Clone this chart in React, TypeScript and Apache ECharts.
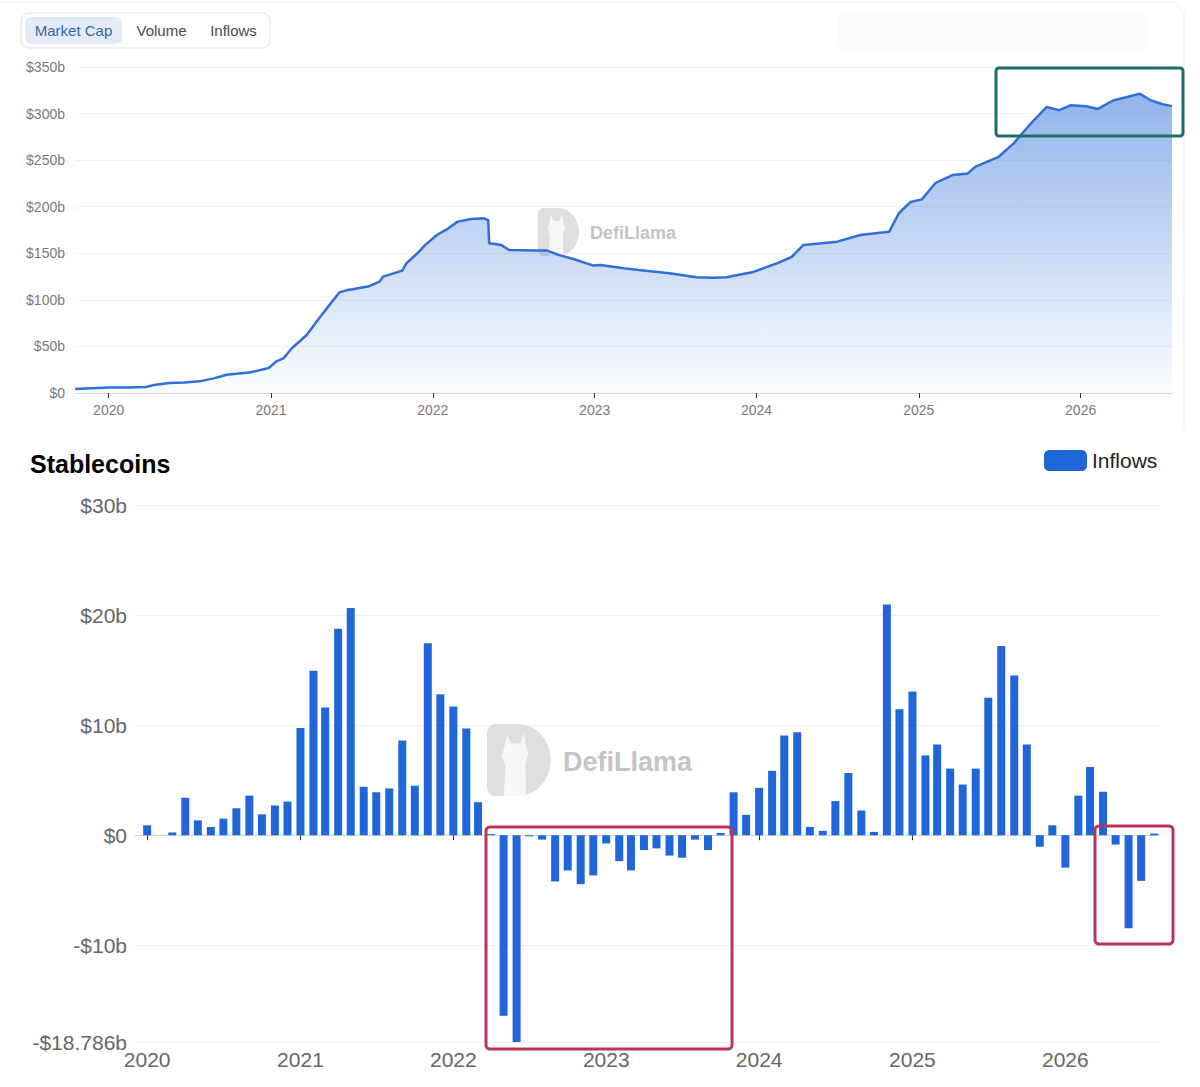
import React, { useEffect, useRef } from "react";
import * as echarts from "echarts";

// ---------- DATA ----------
// Top chart: stablecoin market cap (billions USD)
const capDates = [
  "2019-10-17", "2020-01-01", "2020-02-15", "2020-03-25", "2020-04-08", "2020-05-16",
  "2020-06-20", "2020-07-24", "2020-08-27", "2020-09-23", "2020-10-15", "2020-11-13",
  "2020-12-27", "2021-01-13", "2021-01-30", "2021-02-17", "2021-03-23", "2021-04-17",
  "2021-05-13", "2021-06-04", "2021-06-22", "2021-07-04", "2021-07-25", "2021-08-08",
  "2021-09-03", "2021-09-11", "2021-10-24", "2021-11-02", "2021-11-27", "2021-12-15",
  "2022-01-10", "2022-02-05", "2022-02-26", "2022-03-28", "2022-04-27", "2022-05-06",
  "2022-05-08", "2022-05-25", "2022-06-04", "2022-06-22", "2022-08-22", "2022-09-16",
  "2022-10-13", "2022-11-16", "2022-12-29", "2023-01-14", "2023-03-07", "2023-04-10",
  "2023-06-19", "2023-08-18", "2023-09-25", "2023-10-25", "2023-12-25", "2024-02-15",
  "2024-03-20", "2024-04-16", "2024-07-01", "2024-08-22", "2024-09-25", "2024-10-26",
  "2024-11-17", "2024-12-13", "2025-01-08", "2025-02-08", "2025-03-18", "2025-04-21",
  "2025-05-09", "2025-06-30", "2025-08-03", "2025-09-07", "2025-10-16", "2025-11-14",
  "2025-12-10", "2026-01-14", "2026-02-09", "2026-03-15", "2026-04-18", "2026-05-14",
  "2026-06-09", "2026-07-05", "2026-07-26",
];
const capValues = [
  4.3, 6, 5.9, 6.4, 8.2, 10.7,
  11.4, 12.5, 16, 19.6, 20.6, 22,
  26.8, 34, 37.5, 48, 62.5, 78.6,
  94.6, 108, 110.5, 111.4, 113.2, 114.3,
  119.6, 125, 131.4, 139, 150, 159,
  169.6, 176.8, 184, 186.8, 187.5, 185.7,
  160.7, 159.8, 159, 153.6, 152.9, 152.9,
  148, 143.6, 136.8, 137.5, 134, 132,
  128.6, 124.3, 123.8, 124.3, 130, 139,
  146, 159, 162.5, 169.6, 171.5, 173,
  193, 205, 207.9, 225.7, 234, 235.7,
  243, 253.6, 268, 287.5, 307, 303.6,
  309, 307.9, 305, 314, 318, 321.4,
  314, 310, 308,
];

// Bottom chart: monthly stablecoin inflows (billions USD), Jan 2020 .. Aug 2026
const inflowMonths = [
  "2020-01", "2020-02", "2020-03", "2020-04", "2020-05", "2020-06", "2020-07", "2020-08", "2020-09", "2020-10", "2020-11", "2020-12",
  "2021-01", "2021-02", "2021-03", "2021-04", "2021-05", "2021-06", "2021-07", "2021-08", "2021-09", "2021-10", "2021-11", "2021-12",
  "2022-01", "2022-02", "2022-03", "2022-04", "2022-05", "2022-06", "2022-07", "2022-08", "2022-09", "2022-10", "2022-11", "2022-12",
  "2023-01", "2023-02", "2023-03", "2023-04", "2023-05", "2023-06", "2023-07", "2023-08", "2023-09", "2023-10", "2023-11", "2023-12",
  "2024-01", "2024-02", "2024-03", "2024-04", "2024-05", "2024-06", "2024-07", "2024-08", "2024-09", "2024-10", "2024-11", "2024-12",
  "2025-01", "2025-02", "2025-03", "2025-04", "2025-05", "2025-06", "2025-07", "2025-08", "2025-09", "2025-10", "2025-11", "2025-12",
  "2026-01", "2026-02", "2026-03", "2026-04", "2026-05", "2026-06", "2026-07", "2026-08",
];
const inflowValues = [
  0.9, 0, 0.25, 3.4, 1.35, 0.75, 1.5, 2.45, 3.6, 1.9, 2.7, 3.05,
  9.75, 14.95, 11.6, 18.75, 20.65, 4.4, 3.9, 4.25, 8.6, 4.5, 17.45, 12.8,
  11.7, 9.7, 3.0, 0.1, -16.4, -18.786, -0.1, -0.4, -4.2, -3.2, -4.45, -3.65,
  -0.75, -2.35, -3.2, -1.35, -1.2, -1.85, -2.05, -0.4, -1.35, 0.2, 3.9, 1.85,
  4.3, 5.85, 9.05, 9.35, 0.75, 0.4, 3.1, 5.65, 2.25, 0.3, 20.95, 11.45,
  13.05, 7.25, 8.25, 6.05, 4.6, 6.05, 12.5, 17.2, 14.5, 8.25, -1.05, 0.9,
  -2.95, 3.6, 6.2, 3.95, -0.85, -8.45, -4.15, 0.15,
];

const yearTicks = [2020, 2021, 2022, 2023, 2024, 2025, 2026];
const tabLabels = ["Market Cap", "Volume", "Inflows"];

// ---------- HELPERS ----------
const ts = (s: string) => {
  const p = s.split("-").map(Number);
  return new Date(p[0], (p[1] || 1) - 1, p[2] || 1).getTime();
};
const yearTs = yearTicks.map((y) => new Date(y, 0, 1).getTime());
const yearFmt = (v: number) => String(new Date(v + 12 * 3600 * 1000).getFullYear());
const money = (v: number) => (v === 0 ? "$0" : (v < 0 ? "-$" + Math.abs(v) : "$" + v) + "b");
const FONT = "'Liberation Sans', Arial, Helvetica, sans-serif";

const D_PATH =
  "M12 0 H48 A50 50 0 0 1 48 100 H12 A12 12 0 0 1 0 88 V12 A12 12 0 0 1 12 0 Z";
const LLAMA_PATH =
  "M26 100 L28 58 L23 44 L27 31 L31 14 L37 27 L51 27 L57 13 L60 29 L64 42 L59 55 L60 100 Z";
let registered = false;
function registerShapes() {
  if (registered) return;
  registered = true;
  echarts.graphic.registerShape("llamaD", echarts.graphic.extendPath(D_PATH, {}) as any);
  echarts.graphic.registerShape("llamaBody", echarts.graphic.extendPath(LLAMA_PATH, {}) as any);
}

function watermark(x: number, y: number, w: number, h: number, textX: number, textY: number, size: number) {
  const sx = w / 100;
  const sy = h / 100;
  return [
    { type: "llamaD", x, y, scaleX: sx, scaleY: sy, z: 1, style: { fill: "#dedede" }, silent: true },
    { type: "llamaBody", x, y, scaleX: sx, scaleY: sy, z: 1, style: { fill: "#f7f7f7" }, silent: true },
    {
      type: "text",
      x: textX,
      y: textY,
      z: 1,
      silent: true,
      style: {
        text: "DefiLlama",
        fill: "#c4c4c4",
        font: `bold ${size}px ${FONT}`,
        verticalAlign: "middle",
      },
    },
  ];
}

export default function App() {
  const ref = useRef<HTMLDivElement>(null);

  useEffect(() => {
    if (!ref.current) return;
    registerShapes();
    const chart = echarts.init(ref.current, undefined, { renderer: "svg" });

    const tabCenters = [73.5, 161.5, 233.5];

    const option: any = {
      animation: false,
      backgroundColor: "#ffffff",
      textStyle: { fontFamily: FONT },
      legend: {
        data: ["Inflows"],
        left: 1044,
        top: 450,
        padding: 0,
        itemWidth: 43,
        itemHeight: 21,
        icon: "roundRect",
        textStyle: { fontSize: 21, color: "#222", fontFamily: FONT },
      },
      grid: [
        { left: 75, top: 67, width: 1097, height: 326 },
        { left: 135, top: 505, width: 1025, height: 537 },
      ],
      xAxis: [
        {
          type: "value",
          gridIndex: 0,
          position: "bottom",
          min: ts("2019-10-17"),
          max: ts("2026-07-26"),
          axisLine: { lineStyle: { color: "#d9d9d9" } },
          axisTick: { show: true, length: 5, lineStyle: { color: "#333" }, customValues: yearTs },
          axisLabel: { customValues: yearTs, formatter: yearFmt, color: "#7a7a7a", fontSize: 14, margin: 10 },
          splitLine: { show: false },
        },
        {
          type: "value",
          gridIndex: 1,
          position: "bottom",
          min: ts("2019-12-03"),
          max: ts("2026-08-15"),
          axisLine: { onZero: true, lineStyle: { color: "#c9d3e5" } },
          axisTick: { show: true, length: 5, lineStyle: { color: "#333" }, customValues: yearTs },
          axisLabel: { show: false },
          splitLine: { show: false },
        },
        {
          type: "value",
          gridIndex: 1,
          position: "bottom",
          min: ts("2019-12-03"),
          max: ts("2026-08-15"),
          axisLine: { show: false, onZero: false },
          axisTick: { show: false },
          axisLabel: { customValues: yearTs, formatter: yearFmt, color: "#666", fontSize: 21, margin: 7 },
          splitLine: { show: false },
        },
      ],
      yAxis: [
        {
          type: "value",
          gridIndex: 0,
          min: 0,
          max: 350,
          interval: 50,
          axisLine: { show: false },
          axisTick: { show: false },
          axisLabel: { formatter: money, color: "#7a7a7a", fontSize: 14, margin: 10 },
          splitLine: { lineStyle: { color: "#f2f2f2" } },
        },
        {
          type: "value",
          gridIndex: 1,
          min: -18.786,
          max: 30,
          splitNumber: 5,
          axisLine: { show: false },
          axisTick: { show: false },
          axisLabel: { formatter: money, color: "#666", fontSize: 21, margin: 8 },
          splitLine: { lineStyle: { color: "#f1f1f1" } },
        },
      ],
      series: [
        {
          name: "Market Cap",
          type: "line",
          xAxisIndex: 0,
          yAxisIndex: 0,
          showSymbol: false,
          symbol: "none",
          data: capDates.map((d, i) => [ts(d), capValues[i]]),
          lineStyle: { width: 2.5, color: "#2f6fd8" },
          itemStyle: { color: "#2f6fd8" },
          areaStyle: {
            color: new echarts.graphic.LinearGradient(0, 0, 0, 1, [
              { offset: 0, color: "rgba(47,111,216,0.75)" },
              { offset: 1, color: "rgba(47,111,216,0.02)" },
            ]),
          },
          z: 3,
        },
        {
          name: "Inflows",
          type: "bar",
          xAxisIndex: 1,
          yAxisIndex: 1,
          barWidth: 8,
          data: inflowMonths.map((m, i) => [ts(m + "-01"), inflowValues[i]]),
          itemStyle: { color: "#1f66d8" },
          z: 3,
        },
      ],
      graphic: [
        {
          type: "polyline",
          z: 0,
          silent: true,
          shape: { points: [[0, 2], [1174, 2], [1184, 12], [1184, 430]] },
          style: { fill: "none", stroke: "#eeeeee", lineWidth: 1 },
        },
        {
          type: "rect",
          z: 0,
          silent: true,
          shape: { x: 838, y: 14, width: 310, height: 36, r: 8 },
          style: { fill: "#fbfbfb" },
        },
        {
          type: "rect",
          z: 5,
          silent: true,
          shape: { x: 21, y: 13, width: 249, height: 35, r: 8 },
          style: { fill: "#ffffff", stroke: "#e2e2e2", lineWidth: 1 },
        },
        {
          type: "rect",
          z: 6,
          silent: true,
          shape: { x: 25, y: 17, width: 97, height: 27, r: 6 },
          style: { fill: "#e3ebf9" },
        },
        ...tabLabels.map((t, i) => ({
          type: "text",
          z: 7,
          silent: true,
          x: tabCenters[i],
          y: 30.5,
          style: {
            text: t,
            fill: i === 0 ? "#3b64a8" : "#4a4a4a",
            font: `15px ${FONT}`,
            align: "center",
            verticalAlign: "middle",
          },
        })),
        ...watermark(538, 208, 42, 48, 590, 233, 18),
        ...watermark(487, 724, 65, 72, 563, 762, 27),
        {
          type: "text",
          z: 7,
          silent: true,
          x: 30,
          y: 464,
          style: {
            text: "Stablecoins",
            fill: "#000",
            font: `bold 25px ${FONT}`,
            verticalAlign: "middle",
          },
        },
        {
          type: "rect",
          z: 100,
          silent: true,
          shape: { x: 996, y: 68, width: 187, height: 68, r: 3 },
          style: { fill: "none", stroke: "#1d6d68", lineWidth: 3 },
        },
        {
          type: "rect",
          z: 100,
          silent: true,
          shape: { x: 486, y: 827, width: 246, height: 222, r: 4 },
          style: { fill: "none", stroke: "#bd3358", lineWidth: 3 },
        },
        {
          type: "rect",
          z: 100,
          silent: true,
          shape: { x: 1095, y: 826, width: 78, height: 118, r: 4 },
          style: { fill: "none", stroke: "#bd3358", lineWidth: 3 },
        },
      ],
    };

    chart.setOption(option);
    return () => {
      chart.dispose();
    };
  }, []);

  return (
    <div
      ref={ref}
      style={{ position: "fixed", left: 0, top: 0, width: 1200, height: 1087, background: "#fff" }}
    />
  );
}
